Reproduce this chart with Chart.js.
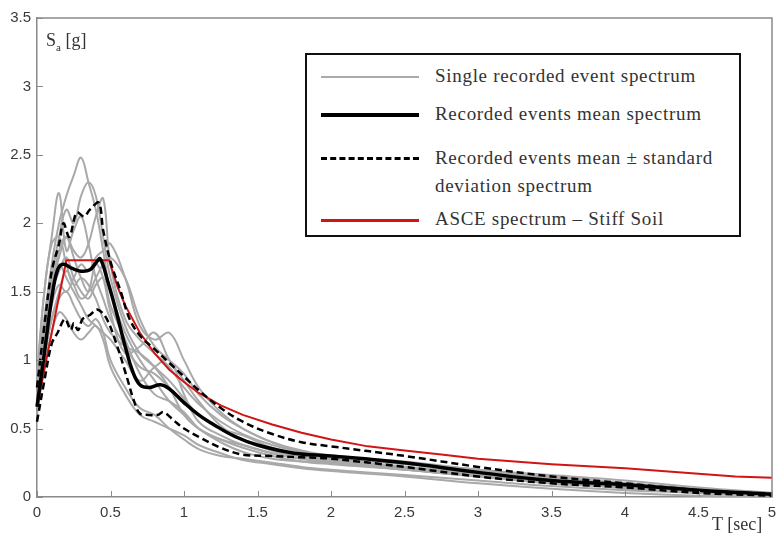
<!DOCTYPE html>
<html>
<head>
<meta charset="utf-8">
<script src="https://cdn.jsdelivr.net/npm/chart.js@4.4.1/dist/chart.umd.min.js"></script>
<style>
  html, body { margin: 0; padding: 0; background: #fff; }
  #wrap { position: relative; width: 777px; height: 534px; }
  #legend {
    position: absolute; left: 305px; top: 53px; width: 432px; height: 180px;
    border: 2px solid #111; background: #fff;
    font-family: "Liberation Serif", serif; font-size: 19px; letter-spacing: 0.7px; color: #333;
  }
  .row { position: absolute; left: 0; }
  .sample { position: absolute; left: 14px; width: 98px; }
  .txt { position: absolute; left: 128px; white-space: nowrap; line-height: 22px; }
  .ylab { position: absolute; left: 46px; top: 30px; font-family: "Liberation Serif", serif; font-size: 18px; color: #333; }
  .xlab { position: absolute; left: 712px; top: 514px; font-family: "Liberation Serif", serif; font-size: 18px; color: #333; }
</style>
</head>
<body>
<div id="wrap">
  <canvas id="specChart" width="777" height="534"></canvas>
  <div class="ylab">S<sub style="font-size:11px">a</sub> [g]</div>
  <div class="xlab">T [sec]</div>
  <div id="legend">
    <div class="row" style="top:21px"><div class="sample" style="border-top:2px solid #aaaaaa"></div></div>
    <div class="txt" style="top:10px">Single recorded event spectrum</div>
    <div class="row" style="top:58px"><div class="sample" style="border-top:4px solid #000"></div></div>
    <div class="txt" style="top:48px">Recorded events mean spectrum</div>
    <div class="row" style="top:102px"><div class="sample" style="border-top:3px dashed #000"></div></div>
    <div class="txt" style="top:92px">Recorded events mean ± standard</div>
    <div class="txt" style="top:120px">deviation spectrum</div>
    <div class="row" style="top:164px"><div class="sample" style="border-top:3px solid #d01515"></div></div>
    <div class="txt" style="top:153px">ASCE spectrum – Stiff Soil</div>
  </div>
</div>
<script>
// Periods [sec] shared by the single recorded events
let eventT = [0, 0.05, 0.1, 0.15, 0.2, 0.25, 0.3, 0.35, 0.4, 0.45, 0.5, 0.6, 0.7, 0.8, 0.9, 1.0, 1.1, 1.25, 1.4, 1.6, 1.8, 2.0, 2.5, 3.0, 3.5, 4.0, 4.5, 5.0];

// Single recorded event spectra Sa [g]
let ev1 = [0.80, 1.30, 1.70, 2.00, 2.20, 2.35, 2.48, 2.30, 2.10, 1.80, 1.50, 1.20, 1.00, 0.85, 0.70, 0.60, 0.50, 0.42, 0.38, 0.32, 0.28, 0.26, 0.20, 0.15, 0.10, 0.07, 0.04, 0.02];
let ev2 = [0.85, 1.50, 1.90, 2.22, 1.80, 1.95, 2.05, 1.85, 1.60, 1.45, 1.30, 1.10, 0.95, 0.90, 0.80, 0.70, 0.60, 0.50, 0.45, 0.36, 0.30, 0.27, 0.22, 0.17, 0.12, 0.08, 0.05, 0.02];
let ev3 = [0.75, 1.20, 1.60, 1.90, 2.10, 2.00, 2.20, 2.30, 2.20, 1.90, 1.60, 1.25, 1.05, 0.95, 0.85, 0.72, 0.60, 0.50, 0.42, 0.34, 0.30, 0.28, 0.24, 0.20, 0.15, 0.10, 0.06, 0.03];
let ev4 = [0.80, 1.25, 1.55, 1.75, 1.90, 1.80, 1.75, 1.85, 2.05, 2.18, 1.70, 1.30, 1.15, 1.05, 0.95, 0.80, 0.68, 0.55, 0.46, 0.38, 0.33, 0.30, 0.25, 0.19, 0.14, 0.09, 0.05, 0.02];
let ev5 = [0.90, 1.50, 1.85, 1.90, 1.70, 1.55, 1.60, 1.55, 1.45, 1.30, 1.20, 1.10, 1.05, 0.95, 0.80, 0.60, 0.50, 0.42, 0.36, 0.30, 0.26, 0.24, 0.20, 0.15, 0.10, 0.07, 0.03, 0.01];
let ev6 = [0.70, 1.10, 1.50, 1.80, 1.90, 1.75, 1.60, 1.50, 1.60, 1.70, 1.75, 1.60, 1.30, 1.10, 1.00, 0.90, 0.75, 0.60, 0.50, 0.40, 0.34, 0.30, 0.26, 0.20, 0.16, 0.12, 0.07, 0.03];
let ev7 = [0.75, 1.10, 1.40, 1.55, 1.50, 1.60, 1.70, 1.65, 1.75, 1.80, 1.85, 1.60, 1.25, 1.15, 1.20, 1.00, 0.80, 0.62, 0.50, 0.40, 0.33, 0.30, 0.25, 0.19, 0.14, 0.10, 0.06, 0.03];
let ev8 = [0.65, 1.00, 1.30, 1.45, 1.50, 1.40, 1.30, 1.25, 1.30, 1.20, 1.00, 0.80, 0.65, 0.60, 0.50, 0.42, 0.35, 0.30, 0.28, 0.25, 0.22, 0.20, 0.16, 0.12, 0.08, 0.05, 0.03, 0.01];
let ev9 = [0.80, 1.20, 1.50, 1.65, 1.75, 1.60, 1.50, 1.45, 1.55, 1.60, 1.40, 1.15, 0.90, 0.75, 0.70, 0.62, 0.50, 0.40, 0.33, 0.28, 0.26, 0.25, 0.22, 0.18, 0.13, 0.06, 0.05, 0.02];
let ev10 = [0.70, 1.05, 1.30, 1.50, 1.65, 1.55, 1.45, 1.50, 1.70, 1.60, 1.35, 1.05, 1.10, 1.20, 1.00, 0.85, 0.70, 0.52, 0.42, 0.34, 0.30, 0.28, 0.21, 0.16, 0.12, 0.08, 0.04, 0.02];
let ev11 = [0.85, 1.30, 1.60, 1.70, 1.60, 1.50, 1.40, 1.30, 1.25, 1.20, 1.15, 1.00, 0.85, 0.95, 1.00, 0.75, 0.55, 0.45, 0.38, 0.32, 0.28, 0.25, 0.20, 0.15, 0.11, 0.07, 0.04, 0.02];
let ev12 = [0.60, 0.95, 1.20, 1.35, 1.30, 1.20, 1.15, 1.20, 1.25, 1.15, 0.95, 0.75, 0.60, 0.55, 0.50, 0.45, 0.38, 0.32, 0.27, 0.24, 0.21, 0.19, 0.15, 0.10, 0.06, 0.03, 0.01, 0.00];
let events = [ev1, ev2, ev3, ev4, ev5, ev6, ev7, ev8, ev9, ev10, ev11, ev12];

// Recorded events mean spectrum
let meanT = [0, 0.05, 0.1, 0.14, 0.18, 0.24, 0.3, 0.36, 0.4, 0.43, 0.48, 0.54, 0.6, 0.65, 0.7, 0.76, 0.84, 0.9, 1.0, 1.1, 1.2, 1.35, 1.5, 1.75, 2.0, 2.5, 3.0, 3.5, 4.0, 4.5, 5.0];
let meanSa = [0.66, 1.05, 1.45, 1.66, 1.70, 1.67, 1.65, 1.66, 1.71, 1.74, 1.58, 1.35, 1.10, 0.92, 0.82, 0.80, 0.82, 0.79, 0.69, 0.60, 0.53, 0.44, 0.38, 0.32, 0.30, 0.25, 0.18, 0.12, 0.09, 0.05, 0.02];

// Mean + standard deviation
let upperT = [0, 0.05, 0.1, 0.15, 0.18, 0.22, 0.27, 0.32, 0.36, 0.42, 0.45, 0.5, 0.57, 0.63, 0.7, 0.8, 0.9, 1.0, 1.1, 1.25, 1.4, 1.6, 1.8, 2.0, 2.5, 3.0, 3.5, 4.0, 4.5, 5.0];
let upperSa = [0.80, 1.25, 1.65, 1.85, 2.00, 1.90, 2.08, 2.05, 2.10, 2.15, 1.95, 1.72, 1.50, 1.30, 1.18, 1.08, 0.98, 0.88, 0.78, 0.65, 0.55, 0.46, 0.40, 0.37, 0.30, 0.22, 0.15, 0.10, 0.05, 0.02];

// Mean - standard deviation
let lowerT = [0, 0.05, 0.1, 0.14, 0.19, 0.23, 0.25, 0.28, 0.31, 0.36, 0.41, 0.47, 0.54, 0.61, 0.66, 0.7, 0.76, 0.82, 0.86, 0.93, 1.0, 1.1, 1.25, 1.4, 1.6, 1.8, 2.0, 2.5, 3.0, 3.5, 4.0, 4.5, 5.0];
let lowerSa = [0.55, 0.85, 1.12, 1.20, 1.30, 1.22, 1.27, 1.22, 1.30, 1.33, 1.37, 1.31, 1.12, 0.88, 0.70, 0.61, 0.60, 0.60, 0.62, 0.56, 0.50, 0.44, 0.36, 0.31, 0.30, 0.29, 0.28, 0.22, 0.15, 0.10, 0.07, 0.03, 0.01];

// ASCE design spectrum - stiff soil
let asceT = [0, 0.1, 0.2, 0.3, 0.4, 0.49, 0.55, 0.6, 0.7, 0.8, 0.9, 1.0, 1.1, 1.25, 1.4, 1.6, 1.8, 2.0, 2.25, 2.5, 2.75, 3.0, 3.5, 4.0, 4.25, 4.5, 4.75, 5.0];
let asceSa = [0.66, 1.20, 1.73, 1.73, 1.73, 1.73, 1.53, 1.40, 1.20, 1.05, 0.93, 0.84, 0.76, 0.67, 0.60, 0.53, 0.47, 0.42, 0.37, 0.34, 0.31, 0.28, 0.24, 0.21, 0.19, 0.17, 0.15, 0.14];

let xTicks = [0, 0.5, 1, 1.5, 2, 2.5, 3, 3.5, 4, 4.5, 5];
let yTicks = [0, 0.5, 1, 1.5, 2, 2.5, 3, 3.5];

function toPoints(xs, ys) {
    return xs.map((x, i) => ({ x: x, y: ys[i] }));
}

let datasets = [];
datasets.push({ data: toPoints(meanT, meanSa), borderColor: '#000000', borderWidth: 3.5, tension: 0.4, order: 1 });
datasets.push({ data: toPoints(upperT, upperSa), borderColor: '#000000', borderWidth: 2.5, borderDash: [7, 4], tension: 0.35, order: 2 });
datasets.push({ data: toPoints(lowerT, lowerSa), borderColor: '#000000', borderWidth: 2.5, borderDash: [7, 4], tension: 0.35, order: 2 });
datasets.push({ data: toPoints(asceT, asceSa), borderColor: '#d01515', borderWidth: 2, tension: 0, order: 3 });
events.forEach(ev => {
    datasets.push({ data: toPoints(eventT, ev), borderColor: '#a9a9a9', borderWidth: 2, tension: 0.4, order: 4 });
});

// MATLAB-like axes: box and inward ticks
let boxTicks = {
    id: 'boxTicks',
    afterDraw(chart) {
        let ctx = chart.ctx;
        let a = chart.chartArea;
        let xs = chart.scales.x, ys = chart.scales.y;
        ctx.save();
        ctx.strokeStyle = '#8a8a8a';
        ctx.lineWidth = 1.5;
        ctx.beginPath();
        ctx.moveTo(a.left, a.top); ctx.lineTo(a.right, a.top); ctx.lineTo(a.right, a.bottom);
        ctx.stroke();
        ctx.lineWidth = 1;
        ctx.beginPath();
        xTicks.forEach(t => {
            let px = Math.round(xs.getPixelForValue(t)) + 0.5;
            ctx.moveTo(px, a.bottom); ctx.lineTo(px, a.bottom - 6);
        });
        yTicks.forEach(t => {
            let py = Math.round(ys.getPixelForValue(t)) + 0.5;
            ctx.moveTo(a.left, py); ctx.lineTo(a.left + 6, py);
        });
        ctx.stroke();
        ctx.restore();
    }
};

let ctx = document.getElementById('specChart').getContext('2d');
let chart = new Chart(ctx, {
    type: 'line',
    data: { datasets: datasets },
    options: {
        responsive: false,
        animation: false,
        clip: false,
        layout: { padding: { top: 18, right: 5, left: 0, bottom: 0 } },
        elements: { point: { radius: 0 } },
        plugins: { legend: { display: false }, tooltip: { enabled: false } },
        scales: {
            x: {
                type: 'linear', min: 0, max: 5,
                afterFit: s => { s.height = 37; s.paddingRight = 0; s.paddingLeft = 0; },
                afterBuildTicks: s => { s.ticks = xTicks.map(v => ({ value: v })); },
                grid: { display: false, drawTicks: false },
                border: { color: '#8a8a8a', width: 1.5 },
                ticks: { padding: 7, color: '#3a3a3a', font: { family: 'Liberation Sans', size: 15 }, maxRotation: 0, callback: v => String(v) }
            },
            y: {
                type: 'linear', min: 0, max: 3.5,
                afterFit: s => { s.width = 37; s.paddingTop = 0; s.paddingBottom = 0; },
                afterBuildTicks: s => { s.ticks = yTicks.map(v => ({ value: v })); },
                grid: { display: false, drawTicks: false },
                border: { color: '#8a8a8a', width: 1.5 },
                ticks: { padding: 6, color: '#3a3a3a', font: { family: 'Liberation Sans', size: 15 }, callback: v => String(v) }
            }
        }
    },
    plugins: [boxTicks]
});
</script>
</body>
</html>
